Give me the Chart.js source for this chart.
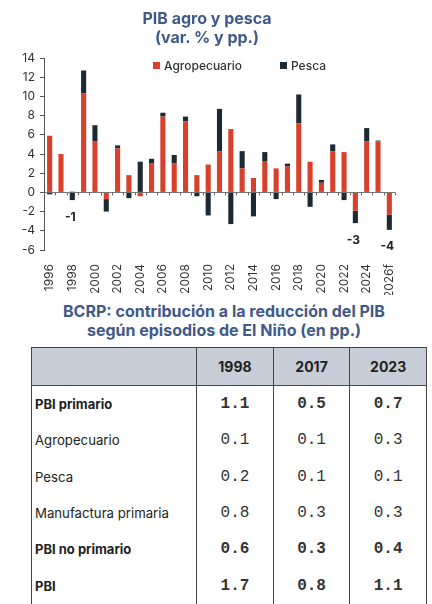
<!DOCTYPE html>
<html>
<head>
<meta charset="utf-8">
<script src="https://cdn.jsdelivr.net/npm/chart.js@4"></script>
<style>
  body { margin: 0; background: #fff; font-family: Inter, "Noto Sans", sans-serif; }
  #wrap { position: relative; width: 432px; height: 604px; overflow: hidden; }
  .ttl { position: absolute; left: 0; width: 414px; text-align: center; color: #3f5a89; font-weight: 700; }
  #t1 { top: 9px; font-size: 16px; line-height: 19px; }
  #t2 { top: 302px; left: 16px; font-size: 16px; line-height: 19px; width: 416px; }
  #chartBox { position: absolute; left: 0; top: 0; width: 432px; height: 300px; }
  #legend { position: absolute; top: 58px; left: 153px; font-size: 12px; font-weight: 500; color: #333; display: flex; }
  #legend span.box { display: inline-block; width: 7px; height: 7px; margin-right: 4px; vertical-align: 1px; }
  #legend div { margin-right: 38px; }
  table { position: absolute; left: 31px; top: 347px; width: 396px; border-collapse: collapse; border: 1.5px solid #444; }
  th { background: #c8ced7; height: 35px; font-size: 14px; font-weight: 700; color: #222; border-left: 1.5px solid #444; border-bottom: 1.5px solid #444; }
  th:first-child { border-left: none; }
  td { height: 36.3px; padding: 0; color: #222; }
  td.lab { padding-left: 3px; font-size: 13.2px; width: 162px; }
  td.num { text-align: center; font-family: "Liberation Mono", monospace; font-size: 16px; color: #333; border-left: 1.5px solid #444; width: 76px; }
  tr.b td.lab { font-weight: 700; font-size: 13px; }
  tr.b td.num { font-weight: 700; }
</style>
</head>
<body>
<div id="wrap">
  <div id="chartBox"><canvas id="myChart"></canvas></div>
  <div class="ttl" id="t1">PIB agro y pesca<br>(var. % y pp.)</div>
  <div id="legend"></div>
  <div class="ttl" id="t2">BCRP: contribución a la reducción del PIB<br>según episodios de El Niño (en pp.)</div>
  <table id="tbl"></table>
</div>
<script>
// chart data
var years = ["1996","1997","1998","1999","2000","2001","2002","2003","2004","2005","2006","2007","2008","2009","2010",
  "2011","2012","2013","2014","2015","2016","2017","2018","2019","2020","2021","2022","2023","2024","2025","2026f"];
var agro = [5.9, 4.0, 0.1, 10.3, 5.3, -0.7, 4.6, 1.8, -0.4, 3.0, 7.9, 3.0, 7.4, 1.8, 2.9,
  4.3, 6.6, 2.5, 1.5, 3.2, 2.5, 2.7, 7.2, 3.2, 1.0, 4.3, 4.2, -1.9, 5.3, 5.3, -2.3];
var pesca = [-0.2, 0.0, -0.8, 2.4, 1.7, -1.3, 0.3, -0.6, 3.2, 0.5, 0.4, 0.9, 0.5, -0.4, -2.4,
  4.4, -3.3, 1.8, -2.5, 1.0, -0.7, 0.3, 3.0, -1.5, 0.3, 0.7, -0.8, -1.3, 1.4, 0.1, -1.6];
var seriesNames = ["Agropecuario", "Pesca"];
var noteYears = ["1998", "2023", "2026f"];
var noteText = ["-1", "-3", "-4"];

// table data
var tableCols = ["1998", "2017", "2023"];
var tableRows = ["PBI primario", "Agropecuario", "Pesca", "Manufactura primaria", "PBI no primario", "PBI"];
var boldRows = [true, false, false, false, true, true];
var v1998 = [1.1, 0.1, 0.2, 0.8, 0.6, 1.7];
var v2017 = [0.5, 0.1, 0.1, 0.3, 0.3, 0.8];
var v2023 = [0.7, 0.3, 0.1, 0.3, 0.4, 1.1];

var colors = ["#d8402b", "#1e2a33"];

// legend
var lg = document.getElementById("legend");
for (let i = 0; i < seriesNames.length; i++) {
  let d = document.createElement("div");
  d.innerHTML = '<span class="box" style="background:' + colors[i] + '"></span>' + seriesNames[i];
  lg.appendChild(d);
}

// table
var tbl = document.getElementById("tbl");
var html = "<tr><th></th>";
for (let c = 0; c < tableCols.length; c++) html += "<th>" + tableCols[c] + "</th>";
html += "</tr>";
var cols = [v1998, v2017, v2023];
for (let r = 0; r < tableRows.length; r++) {
  html += '<tr class="' + (boldRows[r] ? "b" : "") + '"><td class="lab">' + tableRows[r] + "</td>";
  for (let c = 0; c < cols.length; c++) html += '<td class="num">' + cols[c][r].toFixed(1) + "</td>";
  html += "</tr>";
}
tbl.innerHTML = html;

// small ticks on the zero line + total labels
var extras = {
  id: "extras",
  afterDatasetsDraw(chart) {
    let ctx = chart.ctx;
    let xs = chart.scales.x, ys = chart.scales.y;
    let y0 = ys.getPixelForValue(0);
    let step = xs.getPixelForValue(1) - xs.getPixelForValue(0);
    ctx.save();
    ctx.strokeStyle = "#666";
    ctx.lineWidth = 1;
    for (let i = 0; i <= years.length; i++) {
      let x = Math.round(xs.getPixelForValue(i) - step / 2) + 0.5;
      ctx.beginPath();
      ctx.moveTo(x, y0);
      ctx.lineTo(x, y0 + 3);
      ctx.stroke();
    }
    ctx.fillStyle = "#222";
    ctx.font = "bold 12px Inter";
    ctx.textAlign = "center";
    ctx.textBaseline = "middle";
    for (let k = 0; k < noteYears.length; k++) {
      let i = years.indexOf(noteYears[k]);
      let low = Math.min(0, agro[i]) + Math.min(0, pesca[i]);
      ctx.fillText(noteText[k], xs.getPixelForValue(i) - 2, ys.getPixelForValue(low) + 17);
    }
    ctx.restore();
  }
};

new Chart("myChart", {
  type: "bar",
  data: {
    labels: years,
    datasets: [
      { label: seriesNames[0], data: agro, backgroundColor: colors[0] },
      { label: seriesNames[1], data: pesca, backgroundColor: colors[1] }
    ]
  },
  plugins: [extras],
  options: {
    responsive: true,
    maintainAspectRatio: false,
    animation: false,
    layout: { padding: { top: 58, right: 37, bottom: 5, left: 0 } },
    datasets: { bar: { barPercentage: 0.45, categoryPercentage: 1 } },
    plugins: { legend: { display: false }, tooltip: { enabled: false } },
    scales: {
      x: {
        stacked: true,
        grid: { display: false },
        border: { display: false },
        afterFit: function (s) { s.height = 45; },
        ticks: {
          autoSkip: false, maxRotation: 90, minRotation: 90, padding: 6,
          color: "#333", font: { family: "Inter", size: 12 },
          callback: function (v, i) { return i % 2 === 0 ? years[i] : ""; }
        }
      },
      y: {
        stacked: true,
        min: -6, max: 14,
        afterFit: function (s) { s.width = 44; },
        border: { display: true, color: "#555", width: 1 },
        grid: {
          drawTicks: true, tickLength: 4, tickColor: "#555",
          color: function (c) { return c.tick && c.tick.value === 0 ? "#777" : "rgba(0,0,0,0)"; }
        },
        ticks: { stepSize: 2, padding: 5, color: "#333", font: { family: "Inter", size: 12 } }
      }
    }
  }
});
</script>
</body>
</html>
